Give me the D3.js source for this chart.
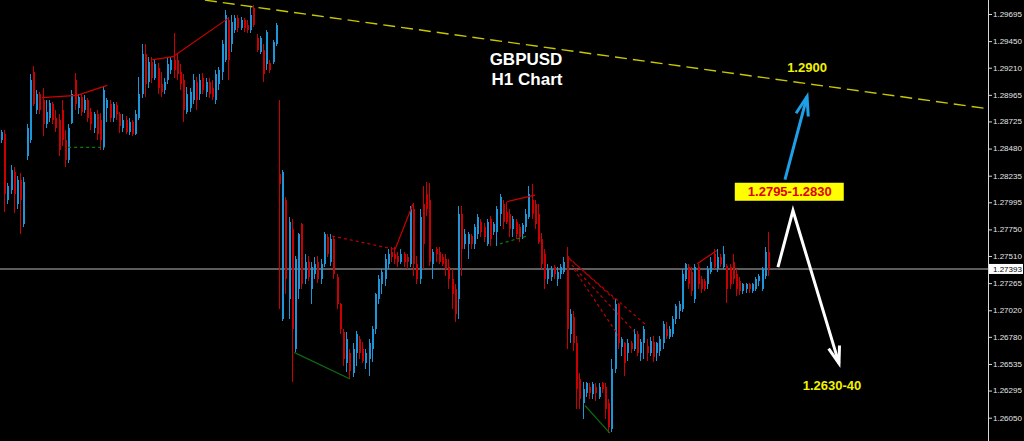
<!DOCTYPE html>
<html><head><meta charset="utf-8">
<script src="https://cdn.jsdelivr.net/npm/d3@7"></script>
<style>html,body{margin:0;padding:0;background:#000;}svg{display:block;}</style>
</head><body><svg id="c" width="1024" height="441"></svg>
<script>
// ---- data (H1 GBPUSD candles, index 0..240) ----
const opens = [
1.2856,1.2861,1.2802,1.2811,1.2827,1.2798,1.2820,1.2780,1.2841,1.2856,
1.2917,1.2883,1.2897,1.2892,1.2870,1.2876,1.2888,1.2876,1.2874,1.2883,
1.2856,1.2838,1.2871,1.2910,1.2885,1.2895,1.2883,1.2892,1.2881,1.2867,
1.2879,1.2874,1.2849,1.2885,1.2888,1.2876,1.2887,1.2879,1.2867,1.2874,
1.2863,1.2872,1.2861,1.2876,1.2897,1.2933,1.2908,1.2926,1.2912,1.2921,
1.2906,1.2901,1.2910,1.2919,1.2928,1.2928,1.2917,1.2910,1.2881,1.2885,
1.2892,1.2908,1.2897,1.2912,1.2899,1.2908,1.2903,1.2892,1.2906,1.2917,
1.2928,1.2964,1.2942,1.2955,1.2966,1.2957,1.2964,1.2960,1.2955,1.2975,
1.2948,1.2935,1.2937,1.2924,1.2925,1.2926,1.2942,1.2825,1.2694,1.2802,
1.2712,1.2775,1.2667,1.2721,1.2780,1.2730,1.2746,1.2721,1.2735,1.2746,
1.2730,1.2744,1.2768,1.2746,1.2766,1.2732,1.2708,1.2682,1.2654,1.2663,
1.2645,1.2663,1.2676,1.2667,1.2654,1.2658,1.2667,1.2685,1.2712,1.2726,
1.2730,1.2744,1.2755,1.2753,1.2751,1.2746,1.2753,1.2750,1.2744,1.2793,
1.2744,1.2730,1.2798,1.2807,1.2802,1.2744,1.2757,1.2755,1.2750,1.2748,
1.2741,1.2730,1.2721,1.2712,1.2789,1.2762,1.2762,1.2769,1.2762,1.2771,
1.2782,1.2777,1.2762,1.2784,1.2773,1.2773,1.2789,1.2798,1.2791,1.2789,
1.2775,1.2782,1.2777,1.2771,1.2777,1.2786,1.2802,1.2798,1.2789,1.2766,
1.2753,1.2730,1.2732,1.2741,1.2730,1.2735,1.2737,1.2751,1.2681,1.2696,
1.2672,1.2640,1.2618,1.2627,1.2633,1.2626,1.2633,1.2624,1.2636,1.2633,
1.2618,1.2595,1.2649,1.2708,1.2669,1.2672,1.2663,1.2672,1.2667,1.2681,
1.2663,1.2672,1.2670,1.2663,1.2673,1.2663,1.2665,1.2672,1.2685,1.2678,
1.2681,1.2694,1.2701,1.2703,1.2730,1.2741,1.2737,1.2712,1.2741,1.2730,
1.2728,1.2726,1.2737,1.2753,1.2739,1.2750,1.2741,1.2742,1.2741,1.2746,
1.2735,1.2728,1.2719,1.2721,1.2726,1.2719,1.2721,1.2728,1.2721,1.2733,
1.2755];
const highs = [
1.2865,1.2865,1.2817,1.2833,1.2831,1.2823,1.2826,1.2822,1.2870,1.2915,
1.2923,1.2901,1.2899,1.2903,1.2892,1.2892,1.2890,1.2883,1.2879,1.2892,
1.2865,1.2870,1.2901,1.2916,1.2897,1.2897,1.2896,1.2894,1.2885,1.2881,
1.2883,1.2880,1.2904,1.2894,1.2892,1.2890,1.2890,1.2881,1.2879,1.2877,
1.2876,1.2874,1.2883,1.2913,1.2942,1.2942,1.2931,1.2931,1.2928,1.2925,
1.2917,1.2912,1.2931,1.2931,1.2952,1.2934,1.2924,1.2915,1.2904,1.2903,
1.2915,1.2913,1.2915,1.2916,1.2912,1.2912,1.2910,1.2919,1.2922,1.2946,
1.2973,1.2967,1.2969,1.2969,1.2969,1.2967,1.2966,1.2964,1.2976,1.2978,
1.2951,1.2950,1.2942,1.2955,1.2928,1.2946,1.2961,1.2892,1.2829,1.2804,
1.2786,1.2784,1.2751,1.2772,1.2781,1.2753,1.2751,1.2746,1.2750,1.2751,
1.2748,1.2773,1.2771,1.2771,1.2769,1.2735,1.2709,1.2685,1.2682,1.2667,
1.2672,1.2683,1.2679,1.2673,1.2667,1.2676,1.2688,1.2718,1.2734,1.2739,
1.2753,1.2757,1.2759,1.2759,1.2755,1.2757,1.2755,1.2753,1.2796,1.2799,
1.2751,1.2793,1.2814,1.2818,1.2817,1.2757,1.2759,1.2759,1.2753,1.2753,
1.2748,1.2739,1.2726,1.2796,1.2796,1.2775,1.2773,1.2771,1.2780,1.2789,
1.2784,1.2781,1.2784,1.2787,1.2782,1.2796,1.2807,1.2802,1.2800,1.2793,
1.2787,1.2784,1.2780,1.2781,1.2793,1.2814,1.2816,1.2802,1.2798,1.2772,
1.2757,1.2744,1.2742,1.2743,1.2741,1.2744,1.2750,1.2759,1.2703,1.2701,
1.2679,1.2645,1.2637,1.2637,1.2636,1.2637,1.2636,1.2636,1.2637,1.2636,
1.2622,1.2658,1.2712,1.2709,1.2678,1.2673,1.2676,1.2674,1.2685,1.2683,
1.2676,1.2688,1.2676,1.2678,1.2679,1.2673,1.2679,1.2692,1.2691,1.2688,
1.2697,1.2708,1.2710,1.2739,1.2745,1.2744,1.2741,1.2744,1.2744,1.2733,
1.2730,1.2742,1.2750,1.2757,1.2757,1.2753,1.2760,1.2744,1.2744,1.2753,
1.2739,1.2732,1.2727,1.2727,1.2727,1.2727,1.2732,1.2735,1.2741,1.2759,
1.2773];
const lows = [
1.2853,1.2791,1.2798,1.2807,1.2790,1.2793,1.2771,1.2777,1.2838,1.2853,
1.2886,1.2879,1.2879,1.2859,1.2867,1.2872,1.2870,1.2863,1.2841,1.2850,
1.2831,1.2835,1.2870,1.2883,1.2879,1.2877,1.2880,1.2872,1.2865,1.2862,
1.2856,1.2847,1.2847,1.2872,1.2872,1.2872,1.2874,1.2862,1.2863,1.2861,
1.2860,1.2859,1.2860,1.2874,1.2894,1.2895,1.2903,1.2907,1.2910,1.2897,
1.2895,1.2897,1.2906,1.2915,1.2912,1.2910,1.2901,1.2872,1.2879,1.2881,
1.2888,1.2883,1.2892,1.2897,1.2895,1.2894,1.2892,1.2888,1.2901,1.2910,
1.2926,1.2910,1.2935,1.2952,1.2953,1.2955,1.2953,1.2952,1.2952,1.2958,
1.2935,1.2933,1.2908,1.2919,1.2916,1.2924,1.2941,1.2703,1.2692,1.2717,
1.2694,1.2637,1.2664,1.2712,1.2721,1.2726,1.2728,1.2708,1.2730,1.2727,
1.2726,1.2741,1.2750,1.2742,1.2730,1.2703,1.2681,1.2652,1.2646,1.2640,
1.2642,1.2652,1.2658,1.2654,1.2649,1.2643,1.2655,1.2681,1.2708,1.2717,
1.2724,1.2739,1.2746,1.2744,1.2741,1.2744,1.2741,1.2739,1.2741,1.2733,
1.2726,1.2726,1.2739,1.2787,1.2742,1.2730,1.2746,1.2744,1.2742,1.2733,
1.2721,1.2703,1.2691,1.2694,1.2733,1.2757,1.2748,1.2757,1.2757,1.2766,
1.2768,1.2764,1.2760,1.2760,1.2770,1.2760,1.2778,1.2775,1.2780,1.2768,
1.2768,1.2766,1.2764,1.2766,1.2773,1.2784,1.2784,1.2775,1.2762,1.2739,
1.2721,1.2726,1.2728,1.2730,1.2724,1.2730,1.2735,1.2667,1.2672,1.2665,
1.2613,1.2613,1.2604,1.2624,1.2622,1.2622,1.2620,1.2622,1.2627,1.2604,
1.2591,1.2592,1.2645,1.2667,1.2661,1.2643,1.2656,1.2663,1.2665,1.2661,
1.2656,1.2658,1.2656,1.2661,1.2655,1.2656,1.2661,1.2667,1.2676,1.2676,
1.2678,1.2690,1.2694,1.2700,1.2728,1.2721,1.2715,1.2709,1.2721,1.2718,
1.2719,1.2721,1.2735,1.2739,1.2737,1.2741,1.2739,1.2709,1.2721,1.2726,
1.2715,1.2716,1.2717,1.2718,1.2718,1.2718,1.2719,1.2724,1.2719,1.2730,
1.2733];
const closes = [
1.2863,1.2807,1.2814,1.2829,1.2807,1.2820,1.2802,1.2818,1.2867,1.2910,
1.2888,1.2897,1.2883,1.2870,1.2881,1.2889,1.2874,1.2867,1.2847,1.2856,
1.2838,1.2867,1.2897,1.2888,1.2895,1.2881,1.2892,1.2876,1.2870,1.2879,
1.2861,1.2856,1.2901,1.2892,1.2876,1.2888,1.2879,1.2868,1.2874,1.2863,
1.2872,1.2861,1.2879,1.2897,1.2933,1.2906,1.2926,1.2912,1.2924,1.2903,
1.2899,1.2908,1.2924,1.2928,1.2919,1.2915,1.2906,1.2883,1.2897,1.2899,
1.2910,1.2892,1.2910,1.2901,1.2908,1.2897,1.2895,1.2915,1.2919,1.2942,
1.2969,1.2928,1.2962,1.2966,1.2957,1.2964,1.2957,1.2955,1.2969,1.2960,
1.2937,1.2948,1.2915,1.2953,1.2919,1.2944,1.2960,1.2816,1.2827,1.2730,
1.2782,1.2685,1.2748,1.2771,1.2726,1.2746,1.2732,1.2741,1.2744,1.2730,
1.2744,1.2771,1.2753,1.2766,1.2735,1.2708,1.2685,1.2658,1.2676,1.2647,
1.2667,1.2681,1.2663,1.2656,1.2663,1.2672,1.2685,1.2717,1.2730,1.2737,
1.2748,1.2753,1.2750,1.2748,1.2746,1.2753,1.2746,1.2746,1.2793,1.2744,
1.2730,1.2786,1.2762,1.2793,1.2746,1.2755,1.2753,1.2746,1.2744,1.2739,
1.2730,1.2717,1.2699,1.2789,1.2757,1.2771,1.2771,1.2762,1.2777,1.2786,
1.2773,1.2768,1.2782,1.2766,1.2780,1.2793,1.2804,1.2782,1.2782,1.2775,
1.2784,1.2771,1.2768,1.2779,1.2789,1.2807,1.2789,1.2780,1.2764,1.2744,
1.2730,1.2739,1.2739,1.2735,1.2737,1.2741,1.2746,1.2685,1.2699,1.2672,
1.2631,1.2622,1.2631,1.2636,1.2627,1.2635,1.2627,1.2633,1.2631,1.2613,
1.2597,1.2649,1.2708,1.2672,1.2676,1.2654,1.2672,1.2667,1.2681,1.2663,
1.2673,1.2685,1.2663,1.2674,1.2660,1.2672,1.2676,1.2690,1.2679,1.2685,
1.2694,1.2706,1.2708,1.2735,1.2744,1.2726,1.2719,1.2741,1.2726,1.2721,
1.2721,1.2739,1.2746,1.2741,1.2750,1.2744,1.2753,1.2721,1.2726,1.2730,
1.2721,1.2719,1.2726,1.2726,1.2721,1.2726,1.2730,1.2733,1.2739,1.2755,
1.27393];

const axisTicks = [1.29695,1.29450,1.29210,1.28965,1.28725,1.28480,1.28235,1.27995,1.27750,1.27510,1.27265,1.27020,1.26780,1.26535,1.26295,1.26050];
const currentPrice = 1.27393;

// indicator lines: [candle index, price]
const redSolidLines = [
  [[12.5,1.2894],[23.5,1.2896],[32.9,1.2905]],
  [[46.9,1.2928],[53.5,1.2931],[71.0,1.2966]],
  [[123.0,1.2757],[128.6,1.2798]],
  [[158.0,1.2800],[166.8,1.2806]],
  [[217.5,1.2744],[223.7,1.2756]]
];
const redDashedLines = [
  [[103.3,1.2769],[123.0,1.2757]],
  [[177.1,1.2750],[192.4,1.2710]],
  [[177.7,1.2748],[201.8,1.2688]],
  [[178.3,1.2743],[197.8,1.2683]],
  [[179.0,1.2739],[193.4,1.2677]]
];
const greenSolidLines = [
  [[91.4,1.2664],[108.9,1.2640]],
  [[182.4,1.2616],[190.2,1.2591]]
];
const greenDashedLines = [
  [[20.7,1.2849],[32.2,1.2849]],
  [[155.8,1.2762],[164.3,1.2769]]
];
const trendLine = [[63.5,1.2982],[308.5,1.2884]];

// annotations
const titleLines = ["GBPUSD","H1 Chart"];
const blueArrow = [[245.0,1.2820],[251.9,1.2895]];
const whiteArrow = [[242.8,1.2741],[247.5,1.2792],[261.9,1.2654]];
const upTarget = {text:"1.2900", at:[251.9,1.2921]};
const zoneBox = {text:"1.2795-1.2830", at:[246.5,1.2809]};
const downTarget = {text:"1.2630-40", at:[259.7,1.2634]};

// ---- drawing ----
const svg = d3.select("#c");
const W = 1024, H = 441, axisX = 988;
svg.append("rect").attr("width",W).attr("height",H).attr("fill","#000");

const x = d3.scaleLinear().domain([0, opens.length-1]).range([2, 769]);
const y = d3.scaleLinear().domain([1.26050, 1.29695]).range([417.7, 14]);

svg.append("clipPath").attr("id","clip").append("rect").attr("x",0).attr("y",0).attr("width",axisX).attr("height",H);
const g = svg.append("g").attr("clip-path","url(#clip)");

// current price line
g.append("line").attr("x1",0).attr("x2",axisX).attr("y1",y(currentPrice)).attr("y2",y(currentPrice))
  .attr("stroke","#7d7d7d").attr("stroke-width",1.6);

// candles
const UP = "#1c96d8", DOWN = "#cc0000";
const candles = d3.range(opens.length).map(i => ({i, o:opens[i], h:highs[i], l:lows[i], c:closes[i]}));
const cg = g.append("g").attr("shape-rendering","crispEdges");
cg.selectAll("rect.wick").data(candles).join("rect").attr("class","wick")
  .attr("x", d => Math.round(x(d.i)) - 1).attr("width", 1)
  .attr("y", d => y(d.h)).attr("height", d => Math.max(1, y(d.l) - y(d.h)))
  .attr("fill", d => d.c >= d.o ? UP : DOWN);
cg.selectAll("rect.body").data(candles).join("rect").attr("class","body")
  .attr("x", d => Math.round(x(d.i)) - 1).attr("width", 2)
  .attr("y", d => y(Math.max(d.o, d.c))).attr("height", d => Math.max(1, Math.abs(y(d.o) - y(d.c))))
  .attr("fill", d => d.c >= d.o ? UP : DOWN);

// indicator lines
const line = d3.line().x(d => x(d[0])).y(d => y(d[1]));
g.selectAll("path.rs").data(redSolidLines).join("path").attr("d", line)
  .attr("fill","none").attr("stroke","#d00000").attr("stroke-width",1.2);
g.selectAll("path.rd").data(redDashedLines).join("path").attr("d", line)
  .attr("fill","none").attr("stroke","#c00000").attr("stroke-width",1.2).attr("stroke-dasharray","3,3");
g.selectAll("path.gs").data(greenSolidLines).join("path").attr("d", line)
  .attr("fill","none").attr("stroke","#0f6a0f").attr("stroke-width",1.2);
g.selectAll("path.gd").data(greenDashedLines).join("path").attr("d", line)
  .attr("fill","none").attr("stroke","#0f7a0f").attr("stroke-width",1.2).attr("stroke-dasharray","3,3");

// trend line
g.append("path").attr("d", line(trendLine)).attr("fill","none")
  .attr("stroke","#c8c800").attr("stroke-width",1.4).attr("stroke-dasharray","12,6");

// title
svg.append("text").attr("x",526).attr("y",65).attr("text-anchor","middle")
  .attr("font-family","Liberation Sans, Arial, sans-serif").attr("font-weight","bold").attr("font-size",17)
  .attr("fill","#fff").text(titleLines[0]);
svg.append("text").attr("x",527).attr("y",85).attr("text-anchor","middle")
  .attr("font-family","Liberation Sans, Arial, sans-serif").attr("font-weight","bold").attr("font-size",17)
  .attr("fill","#fff").text(titleLines[1]);

// arrows
function arrowHead(p, q, len, ang) {
  // p: tip, q: point along shaft
  const a = Math.atan2(q[1]-p[1], q[0]-p[0]);
  const l = [p[0] + len*Math.cos(a+ang), p[1] + len*Math.sin(a+ang)];
  const r = [p[0] + len*Math.cos(a-ang), p[1] + len*Math.sin(a-ang)];
  return `M${l[0]},${l[1]}L${p[0]},${p[1]}L${r[0]},${r[1]}`;
}
const bp = blueArrow.map(d => [x(d[0]), y(d[1])]);
svg.append("path").attr("d", d3.line()(bp)).attr("fill","none").attr("stroke","#1ea0e8").attr("stroke-width",3);
svg.append("path").attr("d", arrowHead(bp[1], bp[0], 20, 0.32)).attr("fill","none")
  .attr("stroke","#1ea0e8").attr("stroke-width",3).attr("stroke-linejoin","miter");
const wp = whiteArrow.map(d => [x(d[0]), y(d[1])]);
svg.append("path").attr("d", d3.line()(wp)).attr("fill","none").attr("stroke","#fff").attr("stroke-width",3).attr("stroke-linejoin","miter");
svg.append("path").attr("d", arrowHead(wp[2], wp[1], 18, 0.32)).attr("fill","none")
  .attr("stroke","#fff").attr("stroke-width",3);

// labels
const bold = "Liberation Sans, Arial, sans-serif";
svg.append("text").attr("x", x(upTarget.at[0])).attr("y", y(upTarget.at[1])).attr("dy","0.35em")
  .attr("text-anchor","middle").attr("font-family",bold).attr("font-weight","bold").attr("font-size",13)
  .attr("fill","#f2f200").text(upTarget.text);
const bx = x(zoneBox.at[0]), by = y(zoneBox.at[1]);
svg.append("rect").attr("x", bx-55).attr("y", by-9).attr("width",109).attr("height",18).attr("fill","#ffff00");
svg.append("text").attr("x", bx).attr("y", by).attr("dy","0.35em")
  .attr("text-anchor","middle").attr("font-family",bold).attr("font-weight","bold").attr("font-size",13)
  .attr("fill","#e00000").text(zoneBox.text);
svg.append("text").attr("x", x(downTarget.at[0])).attr("y", y(downTarget.at[1])).attr("dy","0.35em")
  .attr("text-anchor","middle").attr("font-family",bold).attr("font-weight","bold").attr("font-size",13)
  .attr("fill","#f2f200").text(downTarget.text);

// right price axis
svg.append("line").attr("x1",axisX+0.5).attr("x2",axisX+0.5).attr("y1",0).attr("y2",H)
  .attr("stroke","#d8d8d8").attr("stroke-width",1);
const fmt = d3.format(".5f");
const tg = svg.selectAll("g.tick").data(axisTicks).join("g").attr("class","tick")
  .attr("transform", d => `translate(0,${y(d)})`);
tg.append("line").attr("x1",axisX+1).attr("x2",axisX+4).attr("y1",0.5).attr("y2",0.5).attr("stroke","#d8d8d8");
tg.append("text").attr("x",axisX+5).attr("dy","0.35em")
  .attr("font-family","Liberation Sans, Arial, sans-serif").attr("font-size",8)
  .attr("fill","#e6e6e6").text(d => fmt(d));

// current price label
const cy = y(currentPrice);
svg.append("rect").attr("x",axisX+1).attr("y",cy-5).attr("width",34).attr("height",10).attr("fill","#fff");
svg.append("text").attr("x",axisX+5).attr("y",cy).attr("dy","0.35em")
  .attr("font-family","Liberation Sans, Arial, sans-serif").attr("font-size",8)
  .attr("fill","#000").text(fmt(currentPrice));
</script>
</body></html>
